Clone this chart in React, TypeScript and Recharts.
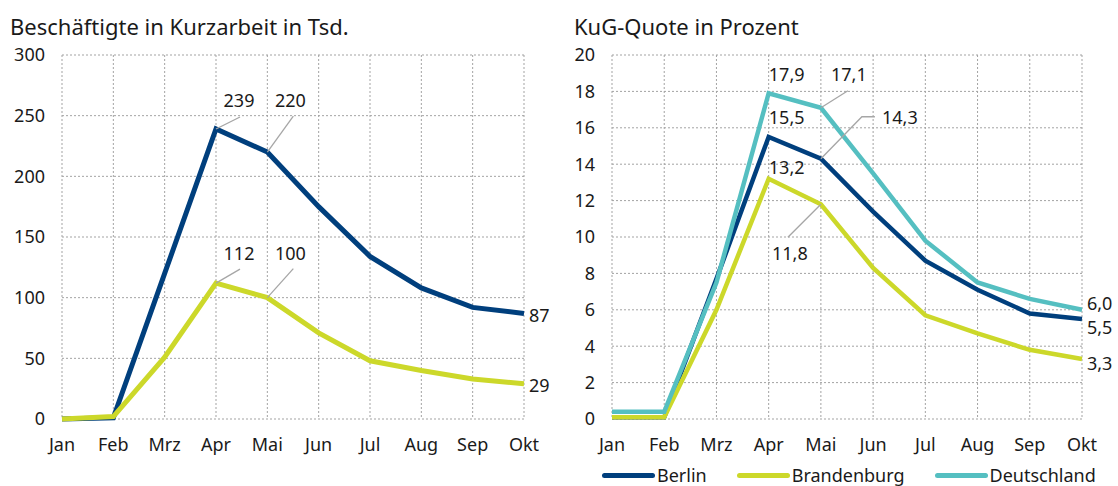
import React from 'react';
import { LineChart, Line, XAxis, YAxis, CartesianGrid, Legend } from 'recharts';

const months = ['Jan', 'Feb', 'Mrz', 'Apr', 'Mai', 'Jun', 'Jul', 'Aug', 'Sep', 'Okt'];

// Beschäftigte in Kurzarbeit (Tsd.)
const kurzBerlin = [0, 1, 120, 239, 220, 175, 134, 108, 92, 87];
const kurzBrandenburg = [0, 2, 51, 112, 100, 71, 48, 40, 33, 29];
const kurzTicks = [0, 50, 100, 150, 200, 250, 300];

// KuG-Quote (%)
const quoteBerlin = [0.1, 0.1, 7.7, 15.5, 14.3, 11.4, 8.7, 7.1, 5.8, 5.5];
const quoteBrandenburg = [0.1, 0.1, 6.0, 13.2, 11.8, 8.3, 5.7, 4.7, 3.8, 3.3];
const quoteDeutschland = [0.4, 0.4, 7.5, 17.9, 17.1, 13.5, 9.8, 7.5, 6.6, 6.0];
const quoteTicks = [0, 2, 4, 6, 8, 10, 12, 14, 16, 18, 20];

const kurzData = months.map((m, i) => ({
  month: m,
  berlin: kurzBerlin[i],
  brandenburg: kurzBrandenburg[i],
}));

const quoteData = months.map((m, i) => ({
  month: m,
  berlin: quoteBerlin[i],
  brandenburg: quoteBrandenburg[i],
  deutschland: quoteDeutschland[i],
}));

const NAVY = '#003f7d';
const LIME = '#ccd82a';
const TEAL = '#55bfc1';
const FONT = '"Noto Sans", sans-serif';
const TXT = '#1a1a1a';
const FS = 18;

type Spec = { dx: number; dy: number; anchor?: 'start' | 'middle' | 'end'; leader?: [number, number][] };

const makeLabel = (specs: Record<number, Spec>, fmt: (v: number) => string) => (props: any) => {
  const { x, y, value, index } = props;
  const s = specs[index];
  if (!s) return null;
  return (
    <g key={`lbl-${index}`}>
      {s.leader && (
        <polyline
          points={[[0, 0] as [number, number], ...s.leader].map(([a, b]) => `${x + a},${y + b}`).join(' ')}
          fill="none"
          stroke="#a6a6a6"
          strokeWidth={1.3}
        />
      )}
      <text
        x={x + s.dx}
        y={y + s.dy}
        textAnchor={s.anchor ?? 'middle'}
        dominantBaseline="central"
        fontSize={FS}
        fill={TXT}
      >
        {fmt(value)}
      </text>
    </g>
  );
};

const intFmt = (v: number) => String(v);
const decFmt = (v: number) => v.toFixed(1).replace('.', ',');

const tick = { fontSize: FS, fill: TXT };

const LegendContent = (props: any) => (
  <div style={{ display: 'flex', alignItems: 'center', fontSize: FS, lineHeight: '20px', color: TXT, fontFamily: FONT }}>
    {(props.payload || []).map((p: any) => (
      <div key={p.value} style={{ display: 'flex', alignItems: 'center', marginRight: 30 }}>
        <div style={{ width: 53, height: 5, borderRadius: 3, background: p.color, marginRight: 2 }} />
        <span>{p.value}</span>
      </div>
    ))}
  </div>
);

export default function App() {
  return (
    <div style={{ position: 'absolute', left: 0, top: 0, width: 1118, height: 486, background: '#fff', fontFamily: FONT, overflow: 'hidden' }}>
      <div style={{ position: 'absolute', left: 10, top: 11, fontSize: 22, color: TXT, whiteSpace: 'nowrap' }}>
        Beschäftigte in Kurzarbeit in Tsd.
      </div>
      <div style={{ position: 'absolute', left: 574, top: 11, fontSize: 22, color: TXT, whiteSpace: 'nowrap' }}>
        KuG-Quote in Prozent
      </div>

      <div style={{ position: 'absolute', left: 0, top: 0 }}>
        <LineChart width={559} height={486} data={kurzData} margin={{ top: 55, right: 35, left: 0, bottom: 37 }}>
          <CartesianGrid stroke="#a3a3a3" strokeDasharray="2 2" vertical horizontal />
          <XAxis dataKey="month" axisLine={false} tickLine={false} tick={tick} tickMargin={13} height={30} interval={0} />
          <YAxis domain={[0, 300]} ticks={kurzTicks} axisLine={false} tickLine={false} tick={tick} tickMargin={11} width={62} interval={0} />
          <Line
            dataKey="berlin"
            stroke={NAVY}
            strokeWidth={5}
            dot={false}
            isAnimationActive={false}
            label={makeLabel(
              {
                3: { dx: 23, dy: -29, leader: [[24, -12]] },
                4: { dx: 23, dy: -52, leader: [[26, -36]] },
                9: { dx: 5, dy: 2, anchor: 'start' },
              },
              intFmt
            )}
          />
          <Line
            dataKey="brandenburg"
            stroke={LIME}
            strokeWidth={5}
            dot={false}
            isAnimationActive={false}
            label={makeLabel(
              {
                3: { dx: 23, dy: -30, leader: [[24, -14]] },
                4: { dx: 23, dy: -45, leader: [[26, -29]] },
                9: { dx: 5, dy: 1, anchor: 'start' },
              },
              intFmt
            )}
          />
        </LineChart>
      </div>

      <div style={{ position: 'absolute', left: 559, top: 0 }}>
        <LineChart width={559} height={486} data={quoteData} margin={{ top: 55, right: 36, left: 0, bottom: 37 }}>
          <CartesianGrid stroke="#a3a3a3" strokeDasharray="2 2" vertical horizontal />
          <XAxis dataKey="month" axisLine={false} tickLine={false} tick={tick} tickMargin={13} height={30} interval={0} />
          <YAxis domain={[0, 20]} ticks={quoteTicks} axisLine={false} tickLine={false} tick={tick} tickMargin={11} width={53} interval={0} />
          <Line
            name="Berlin"
            dataKey="berlin"
            stroke={NAVY}
            strokeWidth={4.5}
            dot={false}
            isAnimationActive={false}
            label={makeLabel(
              {
                3: { dx: 18, dy: -20 },
                4: { dx: 79, dy: -42, leader: [[41, -42], [54, -42]] },
                9: { dx: 5, dy: 8, anchor: 'start' },
              },
              decFmt
            )}
          />
          <Line
            name="Brandenburg"
            dataKey="brandenburg"
            stroke={LIME}
            strokeWidth={4.5}
            dot={false}
            isAnimationActive={false}
            label={makeLabel(
              {
                3: { dx: 18, dy: -12 },
                4: { dx: -31, dy: 49, leader: [[-33, 33]] },
                9: { dx: 5, dy: 4, anchor: 'start' },
              },
              decFmt
            )}
          />
          <Line
            name="Deutschland"
            dataKey="deutschland"
            stroke={TEAL}
            strokeWidth={4.5}
            dot={false}
            isAnimationActive={false}
            label={makeLabel(
              {
                3: { dx: 18, dy: -19 },
                4: { dx: 28, dy: -34, leader: [[27, -17]] },
                9: { dx: 5, dy: -7, anchor: 'start' },
              },
              decFmt
            )}
          />
          <Legend
            layout="horizontal"
            verticalAlign="middle"
            align="center"
            content={LegendContent}
            wrapperStyle={{ top: 465, left: 43, width: 'auto', height: 'auto' }}
          />
        </LineChart>
      </div>
    </div>
  );
}
